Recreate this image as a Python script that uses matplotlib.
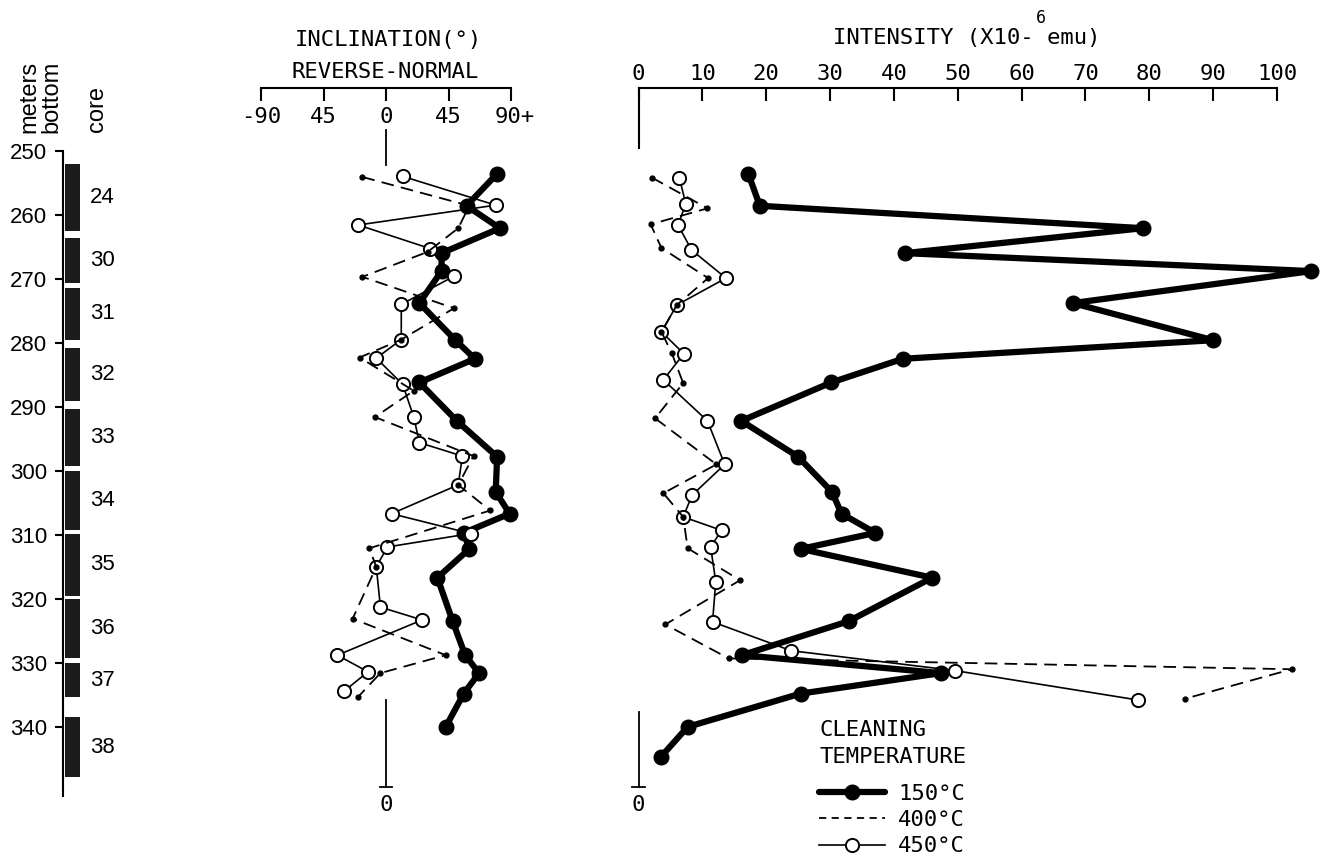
import matplotlib.pyplot as plt
import matplotlib.transforms as mtransforms
from matplotlib.lines import Line2D

# sample depths (m below sea bottom) and measurements, cleaning at 150 °C
depth_150 = [253.6, 258.6, 262.1, 266.0, 268.8, 273.8, 279.6, 282.5, 286.2, 292.2, 297.8,
             303.3, 306.7, 309.7, 312.2, 316.7, 323.5, 328.8, 331.6, 334.8, 340.0, 344.7]
incl_150 = [80, 58, 82, 40, 40, 24, 50, 64, 24, 51, 80,
            79, 89, 56, 60, 37, 48, 57, 67, 56, 43, float("nan")]
inten_150 = [17.2, 19.0, 79.0, 41.7, 105.4, 68.0, 90.0, 41.4, 30.2, 16.1, 25.0,
             30.3, 31.8, 37.1, 25.4, 46.0, 32.9, 16.2, 47.4, 25.4, 7.7, 3.5]

# 400 °C
incl_depth_400 = [254.1, 258.6, 262.1, 265.8, 269.7, 274.6, 279.5, 282.3, 287.5, 291.6,
                  297.7, 302.2, 306.2, 312.1, 315.0, 323.1, 328.8, 331.6, 335.3]
incl_400 = [-17, 60, 52, 30, -17, 49, 11, -19, 20, -8, 63, 52, 75, -12, -7, -24, 43, -4, -20]
inten_depth_400 = [254.2, 259.0, 261.5, 265.2, 269.9, 274.1, 278.3, 281.6, 286.3, 291.8,
                   299.0, 303.5, 307.2, 312.1, 317.1, 324.0, 329.3, 331.0, 335.6]
inten_400 = [2.1, 10.8, 1.9, 3.6, 10.9, 6.0, 3.6, 5.2, 7.0, 2.6,
             12.2, 3.9, 7.0, 7.7, 15.9, 4.2, 14.1, 102.3, 85.6]

# 450 °C
incl_depth_450 = [254.0, 258.5, 261.6, 265.3, 269.6, 274.0, 279.5, 282.4, 286.5, 291.6, 295.6,
                  297.7, 302.2, 306.7, 309.8, 311.9, 315.0, 321.3, 323.3, 328.8, 331.4, 334.4]
incl_450 = [12, 79, -20, 32, 49, 11, 11, -7, 12, 20, 24,
            55, 52, 4, 61, 1, -7, -4, 26, -35, -13, -30]
inten_depth_450 = [254.2, 258.3, 261.6, 265.5, 269.9, 274.1, 278.3, 281.7, 285.8, 292.2,
                   299.0, 303.8, 307.2, 309.3, 311.9, 317.3, 323.6, 328.1, 331.2, 335.8]
inten_450 = [6.4, 7.4, 6.2, 8.3, 13.7, 6.0, 3.6, 7.1, 3.9, 10.8,
             13.5, 8.4, 7.0, 13.0, 11.3, 12.1, 11.6, 23.9, 49.5, 78.2]

# cored intervals
core_names = ["24", "30", "31", "32", "33", "34", "35", "36", "37", "38"]
core_top = [252.0, 263.6, 271.5, 280.8, 290.3, 300.1, 309.9, 320.0, 330.1, 338.4]
core_bottom = [262.6, 270.6, 279.5, 289.1, 299.3, 309.3, 319.5, 329.3, 335.3, 347.9]

depth_ticks = list(range(250, 341, 10))
incl_ticks = [-90, -45, 0, 45, 90]
incl_labels = ["-90", "45", "0", "45", "90+"]
inten_ticks = list(range(0, 101, 10))

MONO = "DejaVu Sans Mono"
SANS = "Liberation Sans"
W, H = 1329, 863
D_TOP, D_BOT = 240.2, 350.8

fig = plt.figure(figsize=(W / 100, H / 100), dpi=100)


def px_axes(x0, x1, y0=88, y1=796):
    ax = fig.add_axes([x0 / W, 1 - y1 / H, (x1 - x0) / W, (y1 - y0) / H])
    ax.set_ylim(D_BOT, D_TOP)
    ax.patch.set_alpha(0)
    for s in ax.spines.values():
        s.set_visible(False)
        s.set_linewidth(1.5)
    return ax


def ftext(x, y, s, **kw):
    kw.setdefault("family", MONO)
    kw.setdefault("fontsize", 16)
    return fig.text(x / W, 1 - y / H, s, **kw)


s150 = dict(color="k", lw=4.5, marker="o", ms=10.5, solid_capstyle="round",
            solid_joinstyle="round", zorder=2, clip_on=False)
s400 = dict(color="k", lw=1.3, ls=(0, (7, 4)), marker="o", ms=3.5, zorder=4, clip_on=False)
s450 = dict(color="k", lw=1.2, marker="o", ms=9.5, mfc="white", mec="k", mew=1.4,
            zorder=3, clip_on=False)

# ---- depth column with cores
axd = px_axes(63, 83)
axd.set_xlim(0, 1)
axd.spines["left"].set_visible(True)
axd.spines["left"].set_bounds(250, D_BOT)
axd.set_xticks([])
axd.set_yticks(depth_ticks)
axd.tick_params(axis="y", direction="out", length=6, width=1.5, pad=5.5, labelsize=16)
for lab in axd.get_yticklabels():
    lab.set_family(SANS)
heights = [b - t for t, b in zip(core_top, core_bottom)]
axd.bar(0.475, heights, bottom=core_top, width=0.75, color="#1c1c1c")
tr = mtransforms.blended_transform_factory(axd.transAxes, axd.transData)
for name, t, b in zip(core_names, core_top, core_bottom):
    axd.text(1.35, (t + b) / 2, name, transform=tr, family=SANS, fontsize=16,
             va="center", ha="left")

ftext(40, 133, "meters\nbottom", family=SANS, fontsize=17, rotation=90,
      ha="center", va="bottom", multialignment="left", linespacing=1.0)
ftext(97, 132, "core", family=SANS, fontsize=17, rotation=90, ha="center", va="bottom")

# ---- inclination panel
axi = px_axes(261, 511)
axi.set_xlim(-90, 90)
axi.spines["top"].set_visible(True)
axi.xaxis.set_ticks_position("top")
axi.set_xticks(incl_ticks)
axi.set_xticklabels([""] * len(incl_ticks))
axi.tick_params(axis="x", direction="in", length=9, width=1.5)
axi.set_yticks([])
trx = mtransforms.blended_transform_factory(axi.transData, axi.transAxes)
for t, lab in zip(incl_ticks, incl_labels):
    axi.text(t + (3 if lab.endswith("+") else 0), 1 - 29 / 708, lab, transform=trx,
             family=MONO, fontsize=16, ha="center", va="center")
ftext(389, 40, "INCLINATION(°)", ha="center", va="center")
ftext(385, 72, "REVERSE-NORMAL", ha="center", va="center")

axi.plot([0, 0], [246.8, 252.2], color="k", lw=1.3, clip_on=False)
axi.plot([0, 0], [335.8, 349.4], color="k", lw=1.3, clip_on=False)
axi.plot([-4.3, 4.3], [349.4, 349.4], color="k", lw=1.3, clip_on=False)
axi.text(0, 352.2, "0", family=MONO, fontsize=16, ha="center", va="center")

axi.plot(incl_150, depth_150, **s150)
axi.plot(incl_450, incl_depth_450, **s450)
axi.plot(incl_400, incl_depth_400, **s400)

# ---- intensity panel
axn = px_axes(638.5, 1277)
axn.set_xlim(0, 100)
axn.spines["top"].set_visible(True)
axn.spines["top"].set_bounds(0, 100)
axn.spines["left"].set_visible(True)
axn.spines["left"].set_bounds(D_TOP, 249.6)
axn.xaxis.set_ticks_position("top")
axn.set_xticks(inten_ticks)
axn.tick_params(axis="x", direction="in", length=9, width=1.5, pad=3, labelsize=16)
for lab in axn.get_xticklabels():
    lab.set_family(MONO)
axn.set_yticks([])
ftext(833, 38, "INTENSITY (X10- emu)", ha="left", va="center")
ftext(1041, 18, "6", ha="center", va="center", fontsize=12)

axn.plot([0, 0], [337.7, 349.4], color="k", lw=1.3, clip_on=False)
axn.plot([-0.94, 0.94], [349.4, 349.4], color="k", lw=1.3, clip_on=False)
axn.text(0, 352.2, "0", family=MONO, fontsize=16, ha="center", va="center")

axn.plot(inten_150, depth_150, **s150)
axn.plot(inten_450, inten_depth_450, **s450)
axn.plot(inten_400, inten_depth_400, **s400)

# ---- legend
ftext(819, 730, "CLEANING", ha="left", va="center")
ftext(819, 757, "TEMPERATURE", ha="left", va="center")
handles = [Line2D([], [], **{k: v for k, v in s150.items() if k != "clip_on"}),
           Line2D([], [], color="k", lw=1.3, ls=(0, (4, 3))),
           Line2D([], [], **{k: v for k, v in s450.items() if k != "clip_on"})]
fig.legend(handles, ["150°C", "400°C", "450°C"], loc="upper left",
           bbox_to_anchor=(819 / W, 1 - 784 / H), frameon=False, borderpad=0,
           borderaxespad=0, handlelength=2.97, handletextpad=0.6, labelspacing=0.28,
           prop={"family": MONO, "size": 16}, numpoints=1)

fig.savefig("out.png", dpi=100)
